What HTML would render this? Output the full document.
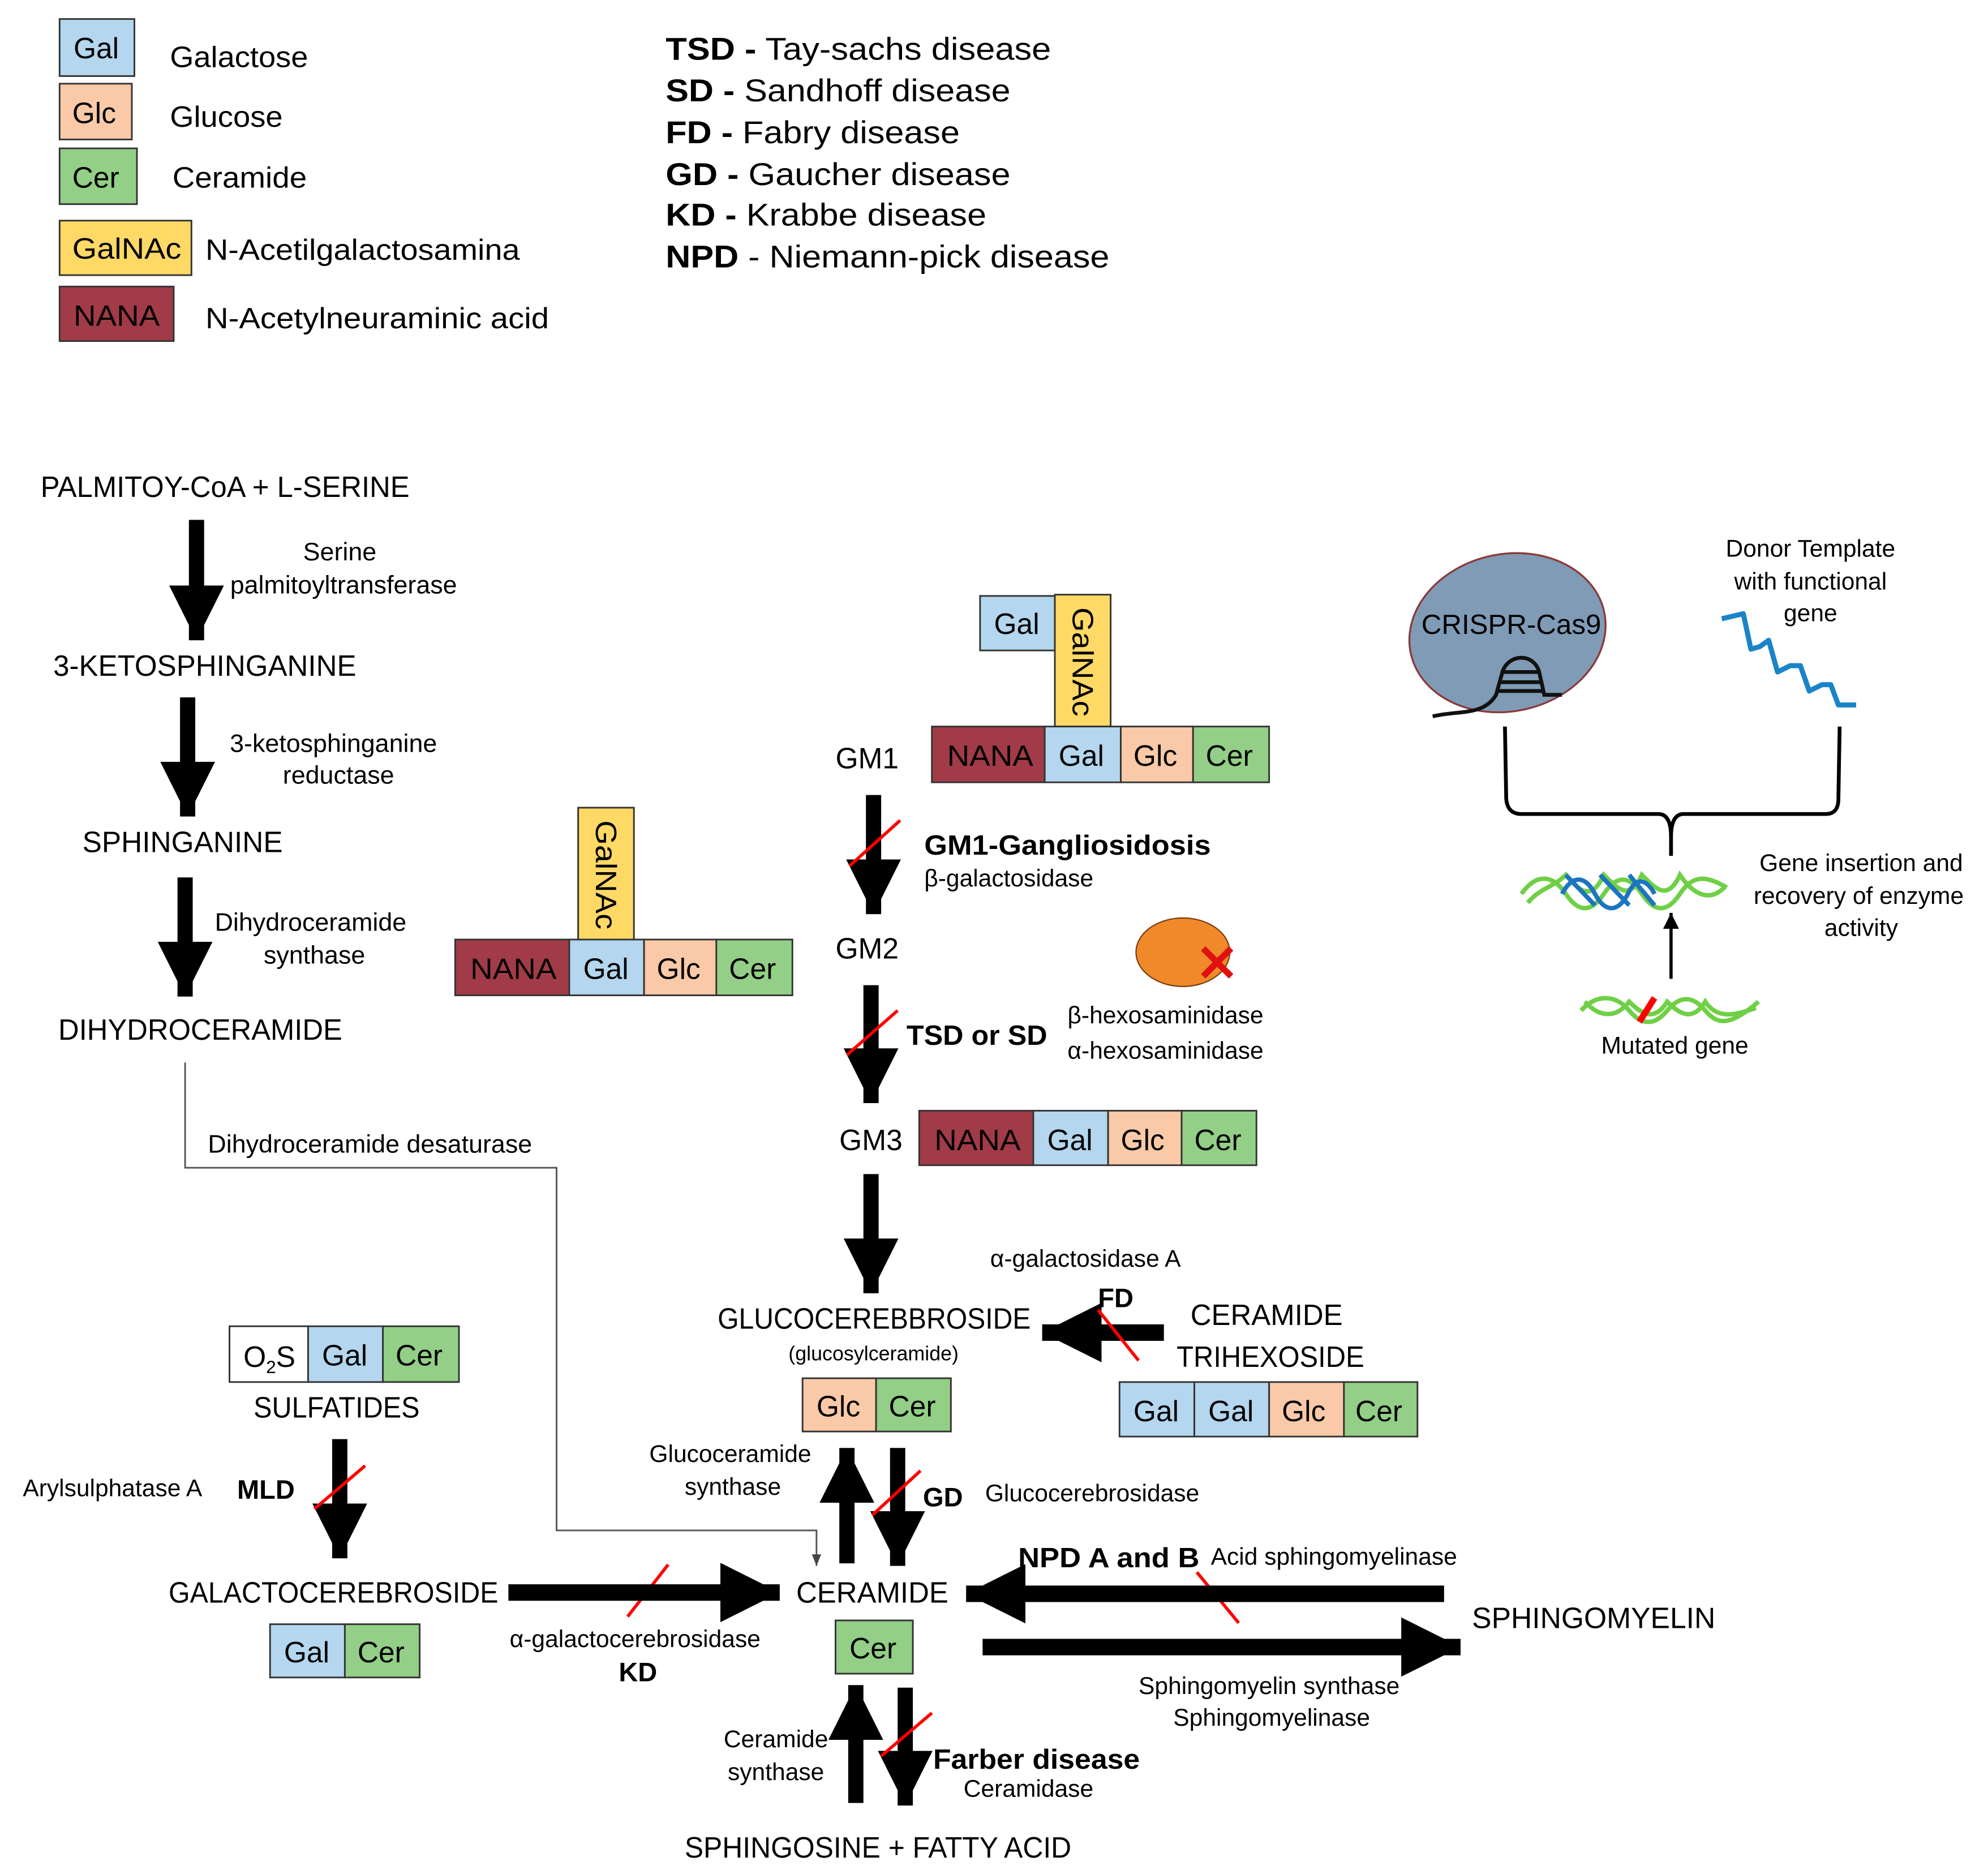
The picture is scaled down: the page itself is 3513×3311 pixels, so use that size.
<!DOCTYPE html>
<html><head><meta charset="utf-8"><style>
html,body{margin:0;padding:0;background:#fff}
svg{display:block}
text{font-family:"Liberation Sans",sans-serif;fill:#000}
.b{font-weight:bold}
.box{stroke:#333;stroke-width:1.3}
</style></head><body>
<svg width="3513" height="3311" viewBox="0 0 1568 1478" preserveAspectRatio="none" xmlns="http://www.w3.org/2000/svg">
<defs>
<marker id="ah" viewBox="0 0 10 10" refX="10" refY="5" markerWidth="3.6" markerHeight="3.6" orient="auto" markerUnits="strokeWidth"><path d="M0,0 L10,5 L0,10 z" fill="#000"/></marker>
<marker id="sm" viewBox="0 0 10 10" refX="10" refY="5" markerWidth="7" markerHeight="7" orient="auto" markerUnits="strokeWidth"><path d="M0,1 L10,5 L0,9 z" fill="#444"/></marker>
<marker id="ar" viewBox="0 0 10 10" refX="10" refY="5" markerWidth="5" markerHeight="5" orient="auto" markerUnits="strokeWidth"><path d="M0,0 L10,5 L0,10 z" fill="#000"/></marker>
</defs>

<!-- Legend -->
<g font-size="23">
<rect class="box" x="47" y="15" width="59" height="45" fill="#b4d6ee"/><text x="58" y="46">Gal</text>
<rect class="box" x="47" y="66" width="57" height="44" fill="#f9c9a8"/><text x="57" y="97">Glc</text>
<rect class="box" x="47" y="117" width="61" height="44" fill="#93cf87"/><text x="57" y="148">Cer</text>
<rect class="box" x="47" y="174" width="104" height="43" fill="#ffd966"/><text x="57" y="204" textLength="86" lengthAdjust="spacingAndGlyphs">GalNAc</text>
<rect class="box" x="47" y="226" width="90" height="43" fill="#a13b47"/><text x="58" y="257" textLength="68" lengthAdjust="spacingAndGlyphs">NANA</text>
<text x="134" y="53" textLength="109" lengthAdjust="spacingAndGlyphs">Galactose</text>
<text x="134" y="100" textLength="89" lengthAdjust="spacingAndGlyphs">Glucose</text>
<text x="136" y="148" textLength="106" lengthAdjust="spacingAndGlyphs">Ceramide</text>
<text x="162" y="205" textLength="248" lengthAdjust="spacingAndGlyphs">N-Acetilgalactosamina</text>
<text x="162" y="259" textLength="271" lengthAdjust="spacingAndGlyphs">N-Acetylneuraminic acid</text>
</g>
<g font-size="25">
<text x="525" y="47" textLength="304" lengthAdjust="spacingAndGlyphs"><tspan class="b">TSD -</tspan> Tay-sachs disease</text>
<text x="525" y="80" textLength="272" lengthAdjust="spacingAndGlyphs"><tspan class="b">SD -</tspan> Sandhoff disease</text>
<text x="525" y="113" textLength="232" lengthAdjust="spacingAndGlyphs"><tspan class="b">FD -</tspan> Fabry disease</text>
<text x="525" y="146" textLength="272" lengthAdjust="spacingAndGlyphs"><tspan class="b">GD -</tspan> Gaucher disease</text>
<text x="525" y="178" textLength="253" lengthAdjust="spacingAndGlyphs"><tspan class="b">KD -</tspan> Krabbe disease</text>
<text x="525" y="211" textLength="350" lengthAdjust="spacingAndGlyphs"><tspan class="b">NPD</tspan> - Niemann-pick disease</text>
</g>

<!-- Left pathway -->
<g font-size="23">
<text x="32" y="392" textLength="291" lengthAdjust="spacingAndGlyphs">PALMITOY-CoA + L-SERINE</text>
<text x="42" y="533" textLength="239" lengthAdjust="spacingAndGlyphs">3-KETOSPHINGANINE</text>
<text x="65" y="672" textLength="158" lengthAdjust="spacingAndGlyphs">SPHINGANINE</text>
<text x="46" y="820" textLength="224" lengthAdjust="spacingAndGlyphs">DIHYDROCERAMIDE</text>
</g>
<g stroke="#000" stroke-width="12" marker-end="url(#ah)">
<line x1="155" y1="410" x2="155" y2="505"/>
<line x1="148" y1="550" x2="148" y2="644"/>
<line x1="146" y1="692" x2="146" y2="786"/>
</g>
<g font-size="20" text-anchor="middle">
<text x="268" y="442">Serine</text>
<text x="271" y="468">palmitoyltransferase</text>
<text x="263" y="593">3-ketosphinganine</text>
<text x="267" y="618">reductase</text>
<text x="245" y="734">Dihydroceramide</text>
<text x="248" y="760">synthase</text>
</g>
<polyline points="146,838 146,921 439,921 439,1207 644,1207 644,1235" fill="none" stroke="#555" stroke-width="1.3" marker-end="url(#sm)"/>
<text x="164" y="909" font-size="20">Dihydroceramide desaturase</text>

<!-- GM2 structure -->
<g font-size="23">
<rect class="box" x="359" y="741" width="90" height="44" fill="#a13b47"/><text x="371" y="772" textLength="68" lengthAdjust="spacingAndGlyphs">NANA</text>
<rect class="box" x="449" y="741" width="59" height="44" fill="#b4d6ee"/><text x="460" y="772">Gal</text>
<rect class="box" x="508" y="741" width="57" height="44" fill="#f9c9a8"/><text x="518" y="772">Glc</text>
<rect class="box" x="565" y="741" width="60" height="44" fill="#93cf87"/><text x="575" y="772">Cer</text>
<rect class="box" x="456" y="637" width="44" height="104" fill="#ffd966"/><text transform="translate(470,647) rotate(90)" textLength="86" lengthAdjust="spacingAndGlyphs">GalNAc</text>

<!-- GM1 -->
<text x="659" y="606">GM1</text>
<rect class="box" x="773" y="470" width="59" height="43" fill="#b4d6ee"/><text x="784" y="500">Gal</text>
<rect class="box" x="832" y="469" width="44" height="104" fill="#ffd966"/><text transform="translate(846,479) rotate(90)" textLength="86" lengthAdjust="spacingAndGlyphs">GalNAc</text>
<rect class="box" x="735" y="573" width="89" height="44" fill="#a13b47"/><text x="747" y="604" textLength="68" lengthAdjust="spacingAndGlyphs">NANA</text>
<rect class="box" x="824" y="573" width="60" height="44" fill="#b4d6ee"/><text x="835" y="604">Gal</text>
<rect class="box" x="884" y="573" width="57" height="44" fill="#f9c9a8"/><text x="894" y="604">Glc</text>
<rect class="box" x="941" y="573" width="60" height="44" fill="#93cf87"/><text x="951" y="604">Cer</text>

<text x="659" y="756">GM2</text>
<text x="662" y="907">GM3</text>
<rect class="box" x="725" y="876" width="90" height="43" fill="#a13b47"/><text x="737" y="907" textLength="68" lengthAdjust="spacingAndGlyphs">NANA</text>
<rect class="box" x="815" y="876" width="59" height="43" fill="#b4d6ee"/><text x="826" y="907">Gal</text>
<rect class="box" x="874" y="876" width="58" height="43" fill="#f9c9a8"/><text x="884" y="907">Glc</text>
<rect class="box" x="932" y="876" width="59" height="43" fill="#93cf87"/><text x="942" y="907">Cer</text>
</g>
<g stroke="#000" stroke-width="12" marker-end="url(#ah)">
<line x1="689" y1="627" x2="689" y2="721"/>
<line x1="687" y1="777" x2="687" y2="870"/>
<line x1="687" y1="926" x2="687" y2="1020"/>
</g>
<g stroke="#f00" stroke-width="2.5">
<line x1="670" y1="683" x2="710" y2="647"/>
<line x1="668" y1="832" x2="708" y2="797"/>
</g>
<text x="729" y="674" font-size="22" class="b" textLength="226" lengthAdjust="spacingAndGlyphs">GM1-Gangliosidosis</text>
<text x="729" y="699" font-size="19">β-galactosidase</text>
<text x="715" y="824" font-size="22" class="b" textLength="111" lengthAdjust="spacingAndGlyphs">TSD or SD</text>
<ellipse cx="933" cy="751" rx="37" ry="27" fill="#f0892a" stroke="#7a3d10" stroke-width="1"/>
<g stroke="#e01010" stroke-width="5"><line x1="949" y1="748" x2="971" y2="770"/><line x1="971" y1="748" x2="949" y2="770"/></g>
<text x="842" y="807" font-size="19">β-hexosaminidase</text>
<text x="842" y="835" font-size="19">α-hexosaminidase</text>

<!-- Glucocerebroside -->
<text x="781" y="999" font-size="19">α-galactosidase A</text>
<text x="566" y="1048" font-size="23" textLength="247" lengthAdjust="spacingAndGlyphs">GLUCOCEREBBROSIDE</text>
<text x="689" y="1073" font-size="16" text-anchor="middle">(glucosylceramide)</text>
<line x1="918" y1="1051" x2="822" y2="1051" stroke="#000" stroke-width="13" marker-end="url(#ah)"/>
<line x1="866" y1="1033" x2="898" y2="1073" stroke="#f00" stroke-width="2.5"/>
<text x="866" y="1031" font-size="21" class="b">FD</text>
<g font-size="23">
<text x="939" y="1045" textLength="120" lengthAdjust="spacingAndGlyphs">CERAMIDE</text>
<text x="928" y="1078" textLength="148" lengthAdjust="spacingAndGlyphs">TRIHEXOSIDE</text>
<rect class="box" x="883" y="1090" width="59" height="43" fill="#b4d6ee"/><text x="894" y="1121">Gal</text>
<rect class="box" x="942" y="1090" width="59" height="43" fill="#b4d6ee"/><text x="953" y="1121">Gal</text>
<rect class="box" x="1001" y="1090" width="59" height="43" fill="#f9c9a8"/><text x="1011" y="1121">Glc</text>
<rect class="box" x="1060" y="1090" width="58" height="43" fill="#93cf87"/><text x="1069" y="1121">Cer</text>
<rect class="box" x="633" y="1087" width="58" height="42" fill="#f9c9a8"/><text x="644" y="1117">Glc</text>
<rect class="box" x="691" y="1087" width="59" height="42" fill="#93cf87"/><text x="701" y="1117">Cer</text>
</g>
<g stroke="#000" stroke-width="12" marker-end="url(#ah)">
<line x1="668" y1="1233" x2="668" y2="1142"/>
<line x1="708" y1="1142" x2="708" y2="1235"/>
<line x1="675" y1="1422" x2="675" y2="1329"/>
<line x1="714" y1="1331" x2="714" y2="1424"/>
<line x1="268" y1="1135" x2="268" y2="1229"/>
</g>
<g stroke="#f00" stroke-width="2.5">
<line x1="688" y1="1195" x2="726" y2="1160"/>
<line x1="695" y1="1385" x2="735" y2="1351"/>
<line x1="248" y1="1190" x2="288" y2="1156"/>
<line x1="495" y1="1275" x2="527" y2="1234"/>
<line x1="944" y1="1240" x2="977" y2="1280"/>
</g>
<text x="728" y="1188" font-size="21" class="b">GD</text>
<text x="777" y="1184" font-size="19">Glucocerebrosidase</text>
<g font-size="19" text-anchor="middle">
<text x="576" y="1153">Glucoceramide</text>
<text x="578" y="1179">synthase</text>
<text x="612" y="1378">Ceramide</text>
<text x="612" y="1404">synthase</text>
<text x="1001" y="1336">Sphingomyelin synthase</text>
<text x="1003" y="1361">Sphingomyelinase</text>
</g>

<!-- Sulfatides -->
<g font-size="23">
<rect class="box" x="181" y="1046" width="62" height="44" fill="#fff"/><text x="192" y="1078">O<tspan font-size="14" dy="5">2</tspan><tspan dy="-5">S</tspan></text>
<rect class="box" x="243" y="1046" width="59" height="44" fill="#b4d6ee"/><text x="254" y="1077">Gal</text>
<rect class="box" x="302" y="1046" width="60" height="44" fill="#93cf87"/><text x="312" y="1077">Cer</text>
<text x="200" y="1118" textLength="131" lengthAdjust="spacingAndGlyphs">SULFATIDES</text>
<text x="133" y="1264" textLength="260" lengthAdjust="spacingAndGlyphs">GALACTOCEREBROSIDE</text>
<rect class="box" x="213" y="1281" width="59" height="42" fill="#b4d6ee"/><text x="224" y="1311">Gal</text>
<rect class="box" x="272" y="1281" width="59" height="42" fill="#93cf87"/><text x="282" y="1311">Cer</text>
<text x="628" y="1264" textLength="120" lengthAdjust="spacingAndGlyphs">CERAMIDE</text>
<rect class="box" x="659" y="1278" width="61" height="42" fill="#93cf87"/><text x="670" y="1308">Cer</text>
<text x="1161" y="1284" textLength="192" lengthAdjust="spacingAndGlyphs">SPHINGOMYELIN</text>
<text x="540" y="1465" textLength="305" lengthAdjust="spacingAndGlyphs">SPHINGOSINE + FATTY ACID</text>
</g>
<text x="18" y="1180" font-size="19">Arylsulphatase A</text>
<text x="187" y="1182" font-size="21" class="b">MLD</text>
<g stroke="#000" stroke-width="13" marker-end="url(#ah)">
<line x1="401" y1="1256" x2="615" y2="1256"/>
<line x1="1139" y1="1257" x2="762" y2="1257"/>
<line x1="775" y1="1299" x2="1152" y2="1299"/>
</g>
<text x="402" y="1299" font-size="19">α-galactocerebrosidase</text>
<text x="488" y="1326" font-size="21" class="b">KD</text>
<text x="803" y="1236" font-size="22" class="b" textLength="143" lengthAdjust="spacingAndGlyphs">NPD A and B</text>
<text x="955" y="1234" font-size="19">Acid sphingomyelinase</text>
<text x="736" y="1395" font-size="22" class="b" textLength="163" lengthAdjust="spacingAndGlyphs">Farber disease</text>
<text x="760" y="1417" font-size="19">Ceramidase</text>

<!-- CRISPR -->
<ellipse cx="1189" cy="499" rx="78" ry="62" transform="rotate(-12 1189 499)" fill="#7f9bb5" stroke="#8b3a3a" stroke-width="1.5"/>
<text x="1192" y="500" font-size="22" text-anchor="middle">CRISPR-Cas9</text>
<g fill="none" stroke="#111" stroke-width="3">
<path d="M1130,565 C1150,560 1170,565 1180,548 L1185,530 C1190,515 1210,515 1214,530 L1218,548 L1232,548"/>
<line x1="1185" y1="530" x2="1214" y2="530"/><line x1="1183" y1="538" x2="1216" y2="538"/><line x1="1181" y1="545" x2="1218" y2="545"/>
</g>
<g font-size="19" text-anchor="middle">
<text x="1428" y="439">Donor Template</text>
<text x="1428" y="465">with functional</text>
<text x="1428" y="490">gene</text>
<text x="1468" y="687">Gene insertion and</text>
<text x="1466" y="713">recovery of enzyme</text>
<text x="1468" y="738">activity</text>
<text x="1321" y="831">Mutated gene</text>
</g>
<path d="M1358,488 L1375,484 L1381,512 L1388,510 L1395,505 L1402,530 L1412,525 L1420,525 L1427,545 L1437,540 L1444,540 L1450,556 L1464,556" fill="none" stroke="#1b84c8" stroke-width="4" stroke-linejoin="round"/>
<path d="M1187,573 L1188,630 Q1189,642 1200,642 L1308,642 Q1318,642 1318,660 L1318,675 M1318,660 Q1318,642 1328,642 L1440,642 Q1450,642 1450,630 L1451,573" fill="none" stroke="#000" stroke-width="3"/>
<g fill="none" stroke-width="3.5">
<path d="M1200,705 C1212,688 1225,690 1235,705 C1245,720 1255,720 1265,705 C1275,690 1285,690 1295,705 C1305,720 1315,720 1325,705 C1335,690 1345,690 1362,700" stroke="#6fd046"/>
<path d="M1205,712 C1215,700 1225,700 1235,690 C1245,702 1255,712 1265,690 C1275,700 1285,712 1295,690 C1305,700 1315,712 1325,690 C1335,705 1348,712 1360,700" stroke="#6fd046"/>
<path d="M1232,705 C1240,690 1250,690 1258,705 C1266,720 1276,720 1284,705 C1290,692 1298,692 1305,705 M1235,690 L1258,714 M1262,690 L1285,714 M1285,690 L1305,714" stroke="#1b75c0"/>
<path d="M1247,797 C1260,783 1275,785 1285,797 C1295,809 1305,809 1315,797 C1325,785 1335,785 1345,797 C1355,809 1365,809 1387,790" stroke="#6fd046"/>
<path d="M1250,790 C1262,803 1275,803 1285,790 C1295,800 1305,806 1315,790 C1325,800 1335,806 1345,790 C1355,805 1370,800 1385,795" stroke="#6fd046"/>
</g>
<line x1="1293" y1="806" x2="1305" y2="787" stroke="#f00" stroke-width="5"/>
<line x1="1318" y1="772" x2="1318" y2="720" stroke="#000" stroke-width="2.5" marker-end="url(#ar)"/>
</svg>
</body></html>
